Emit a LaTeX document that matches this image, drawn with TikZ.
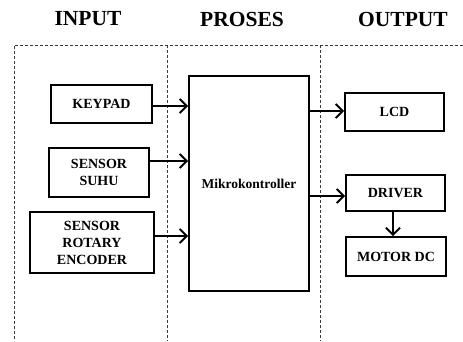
\documentclass[tikz,border=0pt]{standalone}
\usepackage{fontspec}
\setmainfont{Liberation Serif}
\usetikzlibrary{arrows.meta,calc}
\begin{document}
\begin{tikzpicture}[x=1pt,y=-1pt,
  blk/.style={draw=black,line width=1.8pt,inner sep=0pt,align=center,
    font=\fontsize{14}{17}\selectfont\bfseries},
  arr/.style={line width=2pt,-{Straight Barb[length=7pt,width=14pt,line width=2pt]}},
  dsh/.style={draw=gray!45!black,line width=1pt,dash pattern=on 3pt off 2pt},
  ttl/.style={font=\fontsize{21.5}{24}\selectfont\bfseries}]
\useasboundingbox (0,0) rectangle (463,341);
\node[ttl] (tin) at (88,19) {INPUT};
\node[ttl] (tpr) at (242,19) {PROSES};
\node[ttl] (tout) at (403,19) {OUTPUT};
\coordinate (d0) at (14,45);
\coordinate (d1) at (463,45);
\coordinate (d2) at (14,341);
\coordinate (m0) at (167,45);
\coordinate (m1) at (167,341);
\coordinate (r0) at (320,45);
\coordinate (r1) at (320,341);
\draw[dsh] (d1) -- (d0) -- (d2);
\draw[dsh] (m0) -- (m1);
\draw[dsh] (r0) -- (r1);
\node[blk,minimum width=101pt,minimum height=38pt] (key) at (101.5,104) {KEYPAD};
\node[blk,minimum width=100pt,minimum height=49pt] (suhu) at (99,172.5) {SENSOR\\SUHU};
\node[blk,minimum width=124pt,minimum height=61pt] (rot) at (92,242.5) {SENSOR\\ROTARY\\ENCODER};
\node[blk,minimum width=120pt,minimum height=215pt,font=\fontsize{13.5}{16}\selectfont\bfseries] (mik) at (249,183.5) {Mikrokontroller};
\node[blk,minimum width=99pt,minimum height=38pt] (lcd) at (394.5,112) {LCD};
\node[blk,minimum width=99pt,minimum height=36pt] (drv) at (395.5,193) {DRIVER};
\node[blk,minimum width=100pt,minimum height=39pt] (mot) at (396,256.5) {MOTOR DC};
\coordinate (a1) at ([yshift=-2pt]key.east);
\coordinate (a2) at ([yshift=11.5pt]suhu.east);
\coordinate (a3) at ([yshift=6.5pt]rot.east);
\coordinate (b1) at ([yshift=1pt]lcd.west);
\coordinate (b2) at ([yshift=-3pt]drv.west);
\draw[arr] (a1) -- (a1 -| mik.west);
\draw[arr] (a2) -- (a2 -| mik.west);
\draw[arr] (a3) -- (a3 -| mik.west);
\draw[arr] (b1 -| mik.east) -- (b1);
\draw[arr] (b2 -| mik.east) -- (b2);
\draw[arr] ([xshift=-2.5pt]drv.south) -- ([xshift=-2.5pt]drv.south |- mot.north);
\end{tikzpicture}
\end{document}
